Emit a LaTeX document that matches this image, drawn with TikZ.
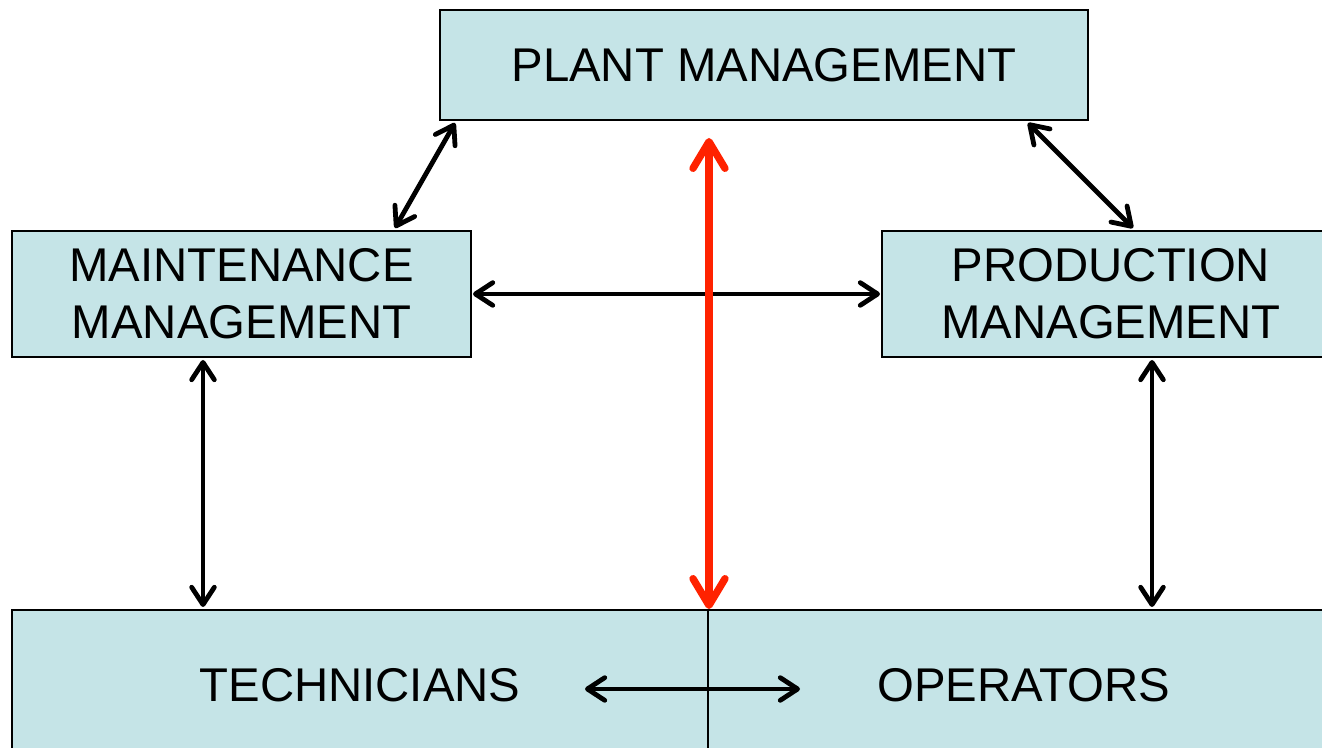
\documentclass[tikz,border=0pt]{standalone}
\usepackage{fontspec}
\setmainfont{Liberation Sans}
\usetikzlibrary{arrows.meta,calc}
\definecolor{boxfill}{RGB}{197,228,231}
\definecolor{linkred}{RGB}{255,34,0}
\tikzset{
  box/.style={draw=black, line width=1.1pt, fill=boxfill, inner sep=0pt, outer sep=0pt,
    align=center, font=\fontsize{35.5}{43}\selectfont},
  link/.style={line width=3.6pt, line cap=round, line join=round,
    {Straight Barb[length=13pt,width=17pt,line cap=round,line join=round]}-{Straight Barb[length=13pt,width=17pt,line cap=round,line join=round]}},
  keylink/.style={line width=5.5pt, linkred, line cap=round, line join=round,
    {Straight Barb[length=20pt,width=24pt,line cap=round,line join=round]}-{Straight Barb[length=20pt,width=24pt,line cap=round,line join=round]}}
}
\begin{document}
\begin{tikzpicture}[x=0.75pt,y=-0.75pt]
\useasboundingbox (0,0) rectangle (1322,748);
\clip (0,0) rectangle (1322,748);

% organisation boxes
\node[box, minimum width=486pt, minimum height=82.5pt] (plant) at (764,65) {PLANT MANAGEMENT};
\node[box, minimum width=344.25pt, minimum height=94.5pt] (maint) at (241.5,294) {\raisebox{-2pt}{\parbox{344pt}{\centering MAINTENANCE\\MANAGEMENT}}};
\node[box, minimum width=343.5pt, minimum height=94.5pt] (prod) at (1111,294) {\raisebox{-2pt}{\parbox{343pt}{\centering PRODUCTION\\MANAGEMENT}}};
\node[box, minimum width=522pt, minimum height=112.5pt] (tech) at (360,685) {TECHNICIANS};
\node[box, minimum width=474pt, minimum height=112.5pt] (oper) at (1024,685) {OPERATORS};

% communication links
\draw[link] ($(plant.south west)+(15,3)$) -- ($(maint.north west)+(383,-3)$);
\draw[link] ($(plant.south east)+(-60,3)$) -- ($(prod.north west)+(251,-3)$);
\draw[link] ($(maint.east)+(2,0)$) -- ($(prod.west)+(-2,0)$);
\draw[link] ($(maint.south west)+(191,3)$) -- ($(tech.north west)+(191,-3)$);
\draw[link] ($(prod.south west)+(270,3)$) -- ($(oper.north west)+(444,-3)$);
\draw[link] ($(tech.east)+(-123,4)$) -- ($(oper.west)+(92,4)$);

% direct plant-to-floor link
\draw[keylink] ($(plant.south)+(-55,18)$) -- ($(tech.north east)+(1,-1)$);
\end{tikzpicture}
\end{document}
